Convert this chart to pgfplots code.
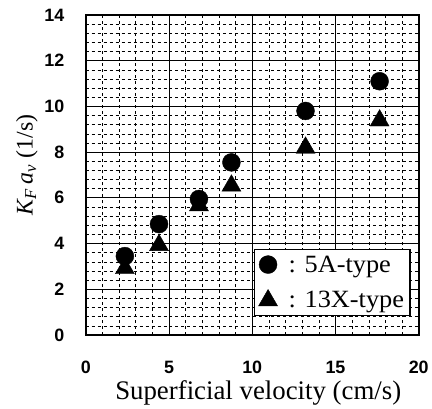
\documentclass[border=0pt]{standalone}
\usepackage{fontspec}
\setmainfont{Liberation Serif}
\setsansfont{Liberation Sans}
\newfontfamily\legfont{Liberation Serif}[FakeStretch=1.06]
\usepackage{pgfplots}
\pgfplotsset{compat=1.18}
\begin{document}
\begin{tikzpicture}
\path (-86bp,-67bp) rectangle (346bp,336bp);
\begin{axis}[
  scale only axis, width=334bp, height=321bp,
  xmin=0, xmax=20, ymin=0, ymax=14,
  xtick={0,5,...,20}, ytick={0,2,...,14},
  minor x tick num=4, minor y tick num=4,
  grid=both,
  major grid style={black, line width=0.7bp},
  minor grid style={black, line width=0.6bp, dash pattern=on 3bp off 3bp},
  axis line style={line width=2bp},
  tick style={draw=none},
  /pgf/number format/assume math mode=true,
  tick label style={font=\fontsize{18}{18}\selectfont\sffamily\bfseries},
  xticklabel style={yshift=-23bp},
  yticklabel style={xshift=-18bp},
  xlabel={Superficial velocity (cm/s)},
  ylabel={\textit{K}\textsubscript{\textit{F}}\,\textit{a}\textsubscript{\textit{v}} (1/s)},
  label style={font=\fontsize{27}{27}\selectfont},
  xlabel style={at={(ticklabel cs:0.518)}},
  ylabel style={at={(ticklabel cs:0.53)}, font=\fontsize{24}{24}\selectfont},
  legend style={at={(rel axis cs:0.976,0.059)}, anchor=south east,
    draw=black, line width=1.5bp, fill=white,
    font=\fontsize{25}{25}\legfont, row sep=14bp, inner sep=4bp},
  legend cell align=left,
  legend image code/.code={\draw[mark repeat=2,mark phase=2,#1] plot coordinates {(0bp,0bp)(10bp,0bp)(20bp,0bp)};},
]
\addplot[only marks, mark=*, mark size=9bp, black, mark options={line width=0.4bp}]
  coordinates {(2.35,3.45) (4.4,4.85) (6.8,5.95) (8.75,7.55) (13.2,9.8) (17.65,11.1)};
\addlegendentry{\hspace*{9bp}: 5A-type}
\addplot[only marks, mark=triangle*, mark size=11bp, black, mark options={line width=0.4bp}]
  coordinates {(2.35,2.92) (4.4,3.93) (6.8,5.67) (8.75,6.53) (13.2,8.19) (17.65,9.38)};
\addlegendentry{\hspace*{9bp}: 13X-type}
\end{axis}
\end{tikzpicture}
\end{document}
